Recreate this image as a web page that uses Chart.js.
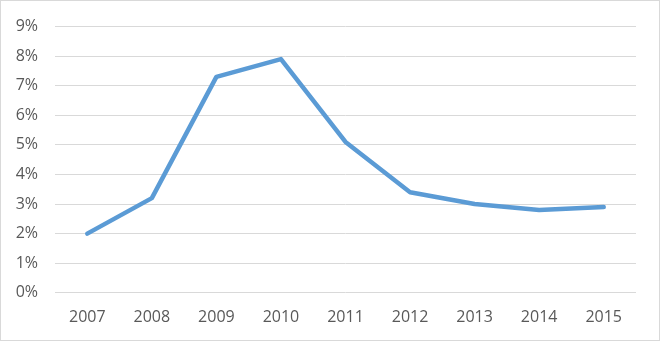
<!DOCTYPE html>
<html>
<head>
<meta charset="utf-8">
<script src="https://cdn.jsdelivr.net/npm/chart.js@4"></script>
<style>
  body { margin: 0; background: #fff; }
  #wrap { position: relative; width: 660px; height: 341px; }
  #frame { position: absolute; left: 0; top: 0; width: 660px; height: 341px; box-sizing: border-box; border: 1px solid #d9d9d9; pointer-events: none; }
</style>
</head>
<body>
<div id="wrap">
  <canvas id="myChart" width="660" height="341"></canvas>
  <div id="frame"></div>
</div>
<script>
// years along the bottom
let years = ["2007", "2008", "2009", "2010", "2011", "2012", "2013", "2014", "2015"];
// rate in percent
let rates = [2.0, 3.2, 7.3, 7.9, 5.1, 3.4, 3.0, 2.8, 2.9];
let yTicks = [0, 1, 2, 3, 4, 5, 6, 7, 8, 9];

let lineColor = "#5b9bd5";
let gridColor = "#d9d9d9";
let textColor = "#595959";

var ctx = document.getElementById("myChart");
var chart = new Chart(ctx, {
  type: "line",
  data: {
    labels: years,
    datasets: [{
      data: rates,
      borderColor: lineColor,
      borderWidth: 4.5,
      borderCapStyle: "round",
      borderJoinStyle: "round",
      pointRadius: 0,
      tension: 0,
      fill: false
    }]
  },
  options: {
    responsive: false,
    animation: false,
    layout: {
      padding: { top: 24, right: 24, bottom: -1, left: 0 }
    },
    plugins: {
      legend: { display: false },
      tooltip: { enabled: false }
    },
    scales: {
      x: {
        offset: true,
        grid: { display: false, drawTicks: false },
        border: { display: false },
        ticks: {
          color: textColor,
          font: { family: "Open Sans", size: 16 },
          padding: 15,
          maxRotation: 0
        }
      },
      y: {
        min: 0,
        max: 9,
        afterFit: function (scale) { scale.width = 55; },
        afterBuildTicks: function (scale) {
          scale.ticks = yTicks.map(function (v) { return { value: v }; });
        },
        grid: { color: gridColor, lineWidth: 1, drawTicks: false },
        border: { display: false },
        ticks: {
          color: textColor,
          font: { family: "Open Sans", size: 16 },
          padding: 17,
          callback: function (v) { return v + "%"; }
        }
      }
    }
  }
});
</script>
</body>
</html>
